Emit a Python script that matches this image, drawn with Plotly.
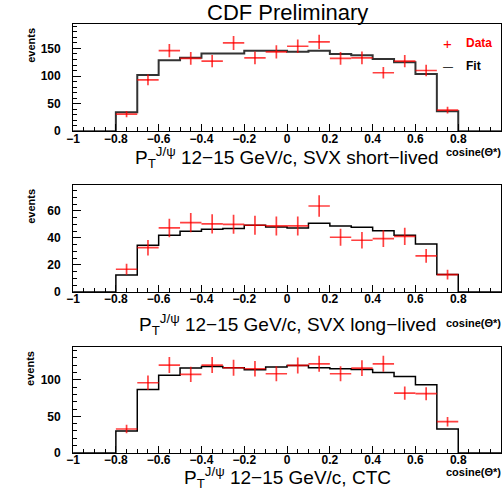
import numpy as np
import plotly.graph_objects as go

# ---- data ----
bin_edges = [round(-1 + 0.1 * i, 2) for i in range(21)]
data_x = [-0.75, -0.65, -0.55, -0.45, -0.35, -0.25, -0.15, -0.05,
          0.05, 0.15, 0.25, 0.35, 0.45, 0.55, 0.65, 0.75]

short_data = [31, 93, 146, 132, 127, 160, 133, 144, 154, 162, 132, 133, 106, 127, 110, 38]
short_fit = [0, 0, 34.5, 102, 128.5, 133, 141, 141, 146, 146,
             144, 146, 140, 137.5, 131, 125, 103.5, 36, 0, 0]

long_data = [16.8, 32.8, 47.4, 51.4, 50.4, 50.1, 49.4, 48.9, 48.9, 63.7, 40.5, 38.3, 39.5, 41.2, 26.7, 12.8]
long_fit = [0, 0, 12.6, 34.6, 42, 45, 46.4, 47, 49.4, 48.1,
            47.4, 50.9, 48.9, 47.9, 45.4, 42, 35.6, 12.8, 0, 0]

ctc_data = [32.7, 95.9, 120, 107.3, 120, 116.4, 115, 108.2, 119.5, 121.8, 108.2, 116, 121.8, 81.8, 80.9, 42.7]
ctc_fit = [0, 0, 30, 86.8, 106, 116, 118, 116.4, 113.6, 117.3,
           119.5, 116.4, 115, 114, 110, 104.5, 93, 32.7, 0, 0]

x_ticks = [-1, -0.8, -0.6, -0.4, -0.2, 0, 0.2, 0.4, 0.6, 0.8, 1]
x_tick_text = ["\u22121", "\u22120.8", "\u22120.6", "\u22120.4", "\u22120.2", "0",
               "0.2", "0.4", "0.6", "0.8", "1"]

subtitles = ["P<sub>T</sub><sup>J/\u03c8</sup> 12\u221215 GeV/c, SVX short\u2212lived",
             "P<sub>T</sub><sup>J/\u03c8</sup> 12\u221215 GeV/c, SVX long\u2212lived",
             "P<sub>T</sub><sup>J/\u03c8</sup> 12\u221215 GeV/c, CTC"]

W, H = 504, 503
def px(xp): return xp / W
def py(yp): return 1 - yp / H

panels = [
    dict(data=short_data, fit=short_fit, yr=[0, 195], dtick=50, minor=10,
         top=24, bot=133, subY=160, cosY=154, fitcol="#333", fitw=2),
    dict(data=long_data, fit=long_fit, yr=[0, 79.5], dtick=20, minor=5,
         top=187.3, bot=296, subY=329, cosY=328, fitcol="black", fitw=1.5),
    dict(data=ctc_data, fit=ctc_fit, yr=[0, 145], dtick=50, minor=10,
         top=351.7, bot=459.3, subY=484, cosY=479, fitcol="black", fitw=1.5),
]

FONT = "Liberation Sans, Arial, Helvetica, sans-serif"
fig = go.Figure()
annotations = []
for i, p in enumerate(panels):
    n = "" if i == 0 else str(i + 1)
    xa, ya = "x" + n, "y" + n
    fit_y = list(p["fit"]) + [p["fit"][-1]]
    fig.add_trace(go.Scatter(x=bin_edges, y=fit_y, mode="lines", line_shape="hv",
                             line=dict(color=p["fitcol"], width=p["fitw"]),
                             xaxis=xa, yaxis=ya, showlegend=False, hoverinfo="skip"))
    errs = list(np.sqrt(np.array(p["data"], dtype=float)))
    fig.add_trace(go.Scatter(x=data_x, y=p["data"], mode="markers",
                             marker=dict(size=1, color="rgba(255,0,0,0.8)"),
                             error_x=dict(type="constant", value=0.05, color="rgba(255,0,0,0.75)",
                                          thickness=1.7, width=0),
                             error_y=dict(type="data", array=errs, color="rgba(255,0,0,0.75)",
                                          thickness=1.7, width=0),
                             xaxis=xa, yaxis=ya, showlegend=False))
    dom_y = [py(p["bot"]), py(p["top"])]
    xaxis = dict(domain=[px(67), px(501)], range=[-1, 1], anchor=ya,
                 tickvals=x_ticks, ticktext=x_tick_text, ticks="inside", ticklen=7,
                 tickcolor="black", tickwidth=1,
                 minor=dict(dtick=0.05, tick0=-1, ticks="inside", ticklen=4, tickcolor="black"),
                 showline=True, linecolor="black", linewidth=1, mirror=True,
                 showgrid=False, zeroline=False, ticklabelstandoff=-4,
                 tickfont=dict(family=FONT, size=12, color="black", weight="bold"))
    yaxis = dict(domain=dom_y, range=p["yr"], anchor=xa,
                 dtick=p["dtick"], tick0=0, ticks="inside", ticklen=8,
                 tickcolor="black", tickwidth=1,
                 minor=dict(dtick=p["minor"], ticks="inside", ticklen=4, tickcolor="black"),
                 showline=True, linecolor="black", linewidth=1, mirror=True,
                 showgrid=False, zeroline=False,
                 ticklabelstandoff=9,
                 tickfont=dict(family=FONT, size=12, color="black", weight="bold"))
    fig.layout["xaxis" + n] = xaxis
    fig.layout["yaxis" + n] = yaxis
    annotations.append(dict(text=subtitles[i], x=px(284), y=py(p["subY"]), xref="paper", yref="paper",
                            showarrow=False, xanchor="center", yanchor="middle",
                            font=dict(family=FONT, size=19, color="black")))
    annotations.append(dict(text="cosine(\u0398*)", x=px(503), y=py(p["cosY"]), xref="paper", yref="paper",
                            showarrow=False, xanchor="right", yanchor="middle",
                            font=dict(family=FONT, size=11, color="black", weight="bold")))
    annotations.append(dict(text="events", x=px(24), y=py(p["top"] + 2), xref="paper", yref="paper",
                            showarrow=False, xanchor="center", yanchor="top", textangle=-90,
                            font=dict(family=FONT, size=11, color="black", weight="bold")))

annotations.append(dict(text="CDF Preliminary", x=px(284), y=py(12.5), xref="paper", yref="paper",
                        showarrow=False, xanchor="center", yanchor="middle",
                        font=dict(family=FONT, size=22, color="black")))
annotations += [
    dict(text="+", x=px(447), y=py(44), xref="paper", yref="paper", showarrow=False,
         xanchor="center", yanchor="middle", font=dict(family=FONT, size=15, color="red")),
    dict(text="Data", x=px(463), y=py(44), xref="paper", yref="paper", showarrow=False,
         xanchor="left", yanchor="middle", font=dict(family=FONT, size=12, color="red", weight="bold")),
    dict(text="\u2014", x=px(447), y=py(67), xref="paper", yref="paper", showarrow=False,
         xanchor="center", yanchor="middle", font=dict(family=FONT, size=10, color="black")),
    dict(text="Fit", x=px(463), y=py(67), xref="paper", yref="paper", showarrow=False,
         xanchor="left", yanchor="middle", font=dict(family=FONT, size=12, color="black", weight="bold")),
]

fig.update_layout(width=W, height=H, autosize=False, margin=dict(l=0, r=0, t=0, b=0),
                  paper_bgcolor="white", plot_bgcolor="white", annotations=annotations,
                  showlegend=False)
fig.write_html("out.html")
